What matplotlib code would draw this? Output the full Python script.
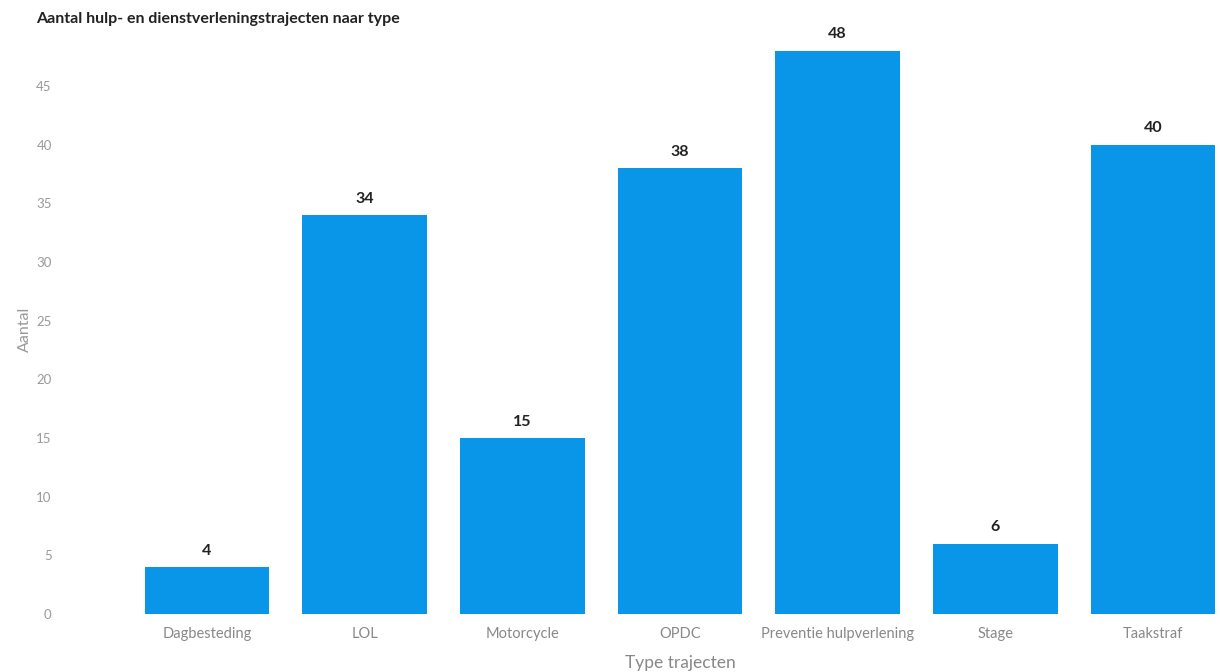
import matplotlib.pyplot as plt

plt.rcParams['font.family'] = ['Lato', 'DejaVu Sans']

# data
categories = ['Dagbesteding', 'LOL', 'Motorcycle', 'OPDC',
              'Preventie hulpverlening', 'Stage', 'Taakstraf']
counts = [4, 34, 15, 38, 48, 6, 40]
y_ticks = [0, 5, 10, 15, 20, 25, 30, 35, 40, 45]

bar_color = '#0a96e8'

fig = plt.figure(figsize=(12.2, 6.72), dpi=100)
ax = fig.add_axes([0.105, 0.0863, 0.895, 0.847])

x = range(len(categories))
bars = ax.bar(x, counts, width=0.79, color=bar_color)

for b, v in zip(bars, counts):
    ax.text(b.get_x() + b.get_width() / 2, v + 0.8, str(v),
            ha='center', va='bottom', fontsize=11.5, fontweight='bold', color='#222222')

ax.set_xlim(-0.5, 6.425)
ax.set_ylim(0, 48.5)
ax.set_xticks(list(x))
ax.set_xticklabels(categories, fontsize=10.5, color='#888888')
ax.set_yticks(y_ticks)
ax.set_yticklabels([str(t) for t in y_ticks], fontsize=9.5, color='#999999')
ax.tick_params(axis='both', length=0)
ax.tick_params(axis='x', pad=9)
ax.tick_params(axis='y', pad=55)

for s in ax.spines.values():
    s.set_visible(False)

ax.set_xlabel('Type trajecten', fontsize=12.5, color='#888888', va='center')
ax.xaxis.set_label_coords(0.506, -0.086)
ax.set_ylabel('Aantal', fontsize=11.5, color='#999999')
ax.yaxis.set_label_coords(-0.088, 0.5)

fig.text(0.0295, 0.972, 'Aantal hulp- en dienstverleningstrajecten naar type',
         fontsize=11.5, fontweight='bold', color='#222222', va='center')

fig.savefig('out.png', dpi=100, facecolor='white')
